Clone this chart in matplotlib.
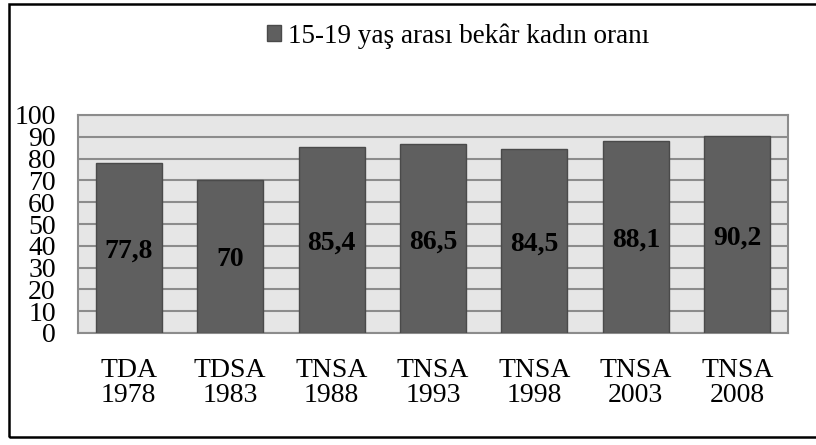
import matplotlib.pyplot as plt
from matplotlib.patches import Rectangle

surveys = ["TDA", "TDSA", "TNSA", "TNSA", "TNSA", "TNSA", "TNSA"]
years = ["1978", "1983", "1988", "1993", "1998", "2003", "2008"]
single_women = [77.8, 70, 85.4, 86.5, 84.5, 88.1, 90.2]
value_labels = ["77,8", "70", "85,4", "86,5", "84,5", "88,1", "90,2"]
series_name = "15-19 yaş arası bekâr kadın oranı"

plt.rcParams["font.family"] = ["Liberation Serif", "DejaVu Serif"]

fig = plt.figure(figsize=(8.16, 4.45), dpi=100)
ax = fig.add_axes([78 / 816, 1 - 333 / 445, 710 / 816, 218 / 445])

# outer frame (right edge falls outside the picture)
fig.patches.append(Rectangle((9 / 816, 8 / 445), 820 / 816, 433 / 445,
                             transform=fig.transFigure, fill=False,
                             edgecolor="black", linewidth=1.8))

positions = range(len(single_women))
bars = ax.bar(positions, single_women, width=0.65, color="#5f5f5f",
              edgecolor="#4a4a4a", linewidth=1.0, zorder=3,
              label=series_name)

for bar, text in zip(bars, value_labels):
    ax.text(bar.get_x() + bar.get_width() / 2, bar.get_height() / 2, text,
            ha="center", va="center_baseline", fontsize=20,
            fontweight="bold", color="black", zorder=4)

ax.set_facecolor("#e6e6e6")
ax.set_xlim(-0.5, len(single_women) - 0.5)
ax.set_ylim(0, 100)
ax.set_yticks(range(0, 101, 10))
ax.yaxis.grid(True, color="#8c8c8c", linewidth=1.5, zorder=1)
ax.set_axisbelow(True)
for spine in ax.spines.values():
    spine.set_color("#8c8c8c")
    spine.set_linewidth(1.5)

ax.set_xticks(list(positions))
ax.set_xticklabels([f"{s}\n{y}" for s, y in zip(surveys, years)],
                   linespacing=1.0)
ax.tick_params(axis="both", length=0, labelsize=20)
ax.tick_params(axis="y", pad=16)
ax.tick_params(axis="x", pad=18)

ax.legend(loc="center", bbox_to_anchor=(458 / 816, 1 - 36 / 445),
          bbox_transform=fig.transFigure, frameon=False, fontsize=19.5,
          handlelength=0.55, handleheight=0.55, handletextpad=0.25)

fig.savefig("out.png", dpi=100)
